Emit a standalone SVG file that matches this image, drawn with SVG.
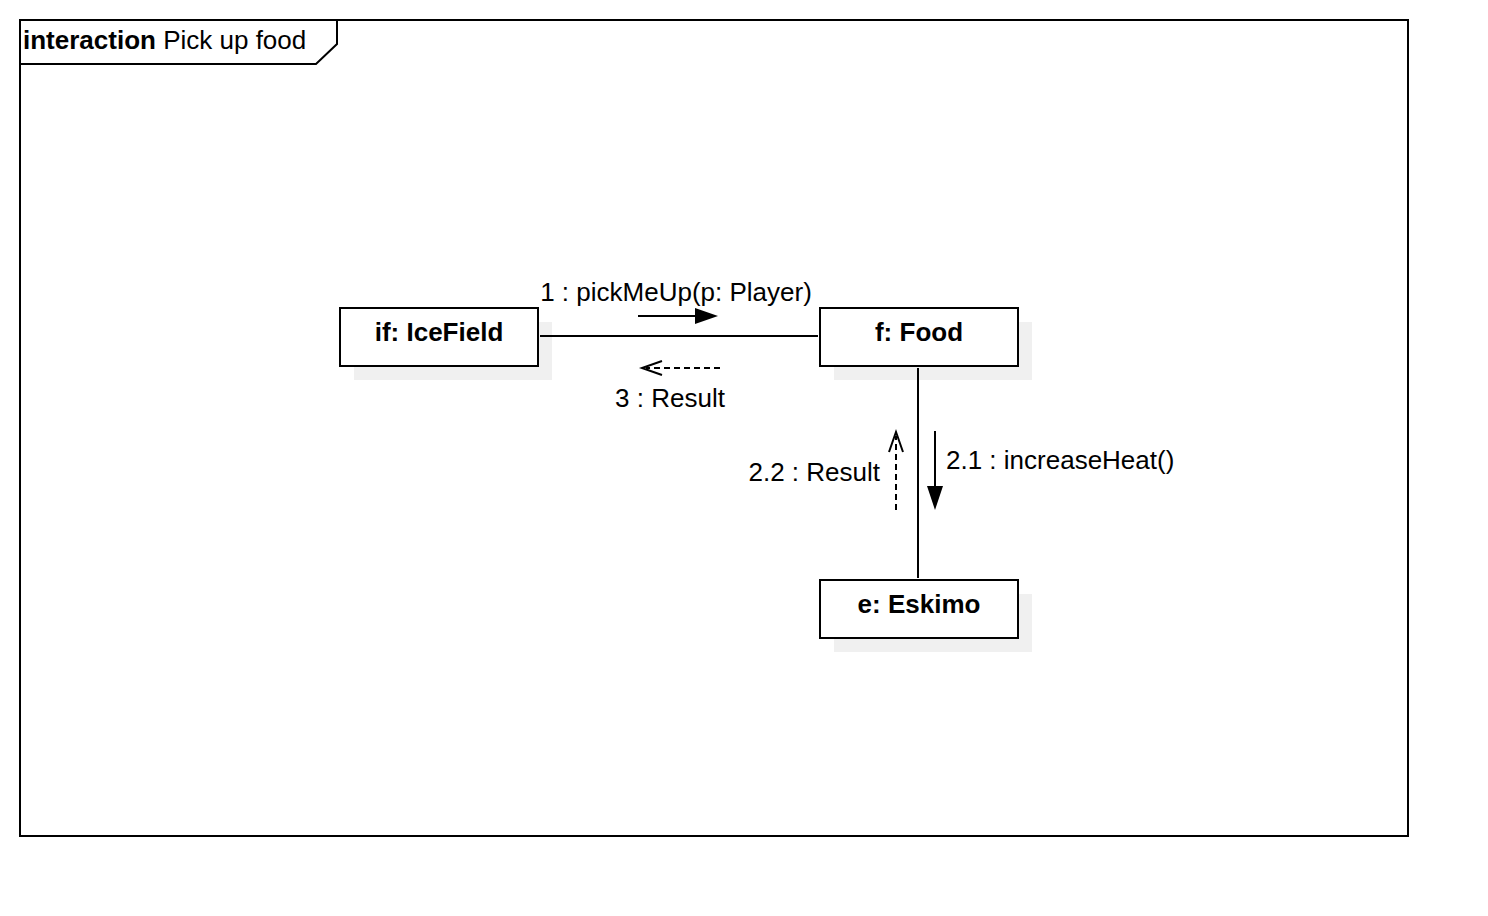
<svg xmlns="http://www.w3.org/2000/svg" width="1488" height="916" viewBox="0 0 1488 916">
<style>
text{font-family:"Liberation Sans",Arial,sans-serif;font-size:26px;fill:#000}
.b{font-weight:bold}
.box{fill:#fff;stroke:#000;stroke-width:2}
.sh{fill:#f0f0f0}
.ln{stroke:#000;stroke-width:2;fill:none}
.ds{stroke:#000;stroke-width:2;fill:none;stroke-dasharray:6 4}
</style>
<rect width="1488" height="916" fill="#fff"/>
<g id="frame">
<rect x="20" y="20" width="1388" height="816" fill="none" stroke="#000" stroke-width="2"/>
<path d="M20 64 H316 L337 44 V20" class="ln"/>
<text x="23" y="49"><tspan class="b">interaction</tspan> Pick up food</text>
</g>
<g id="node-icefield">
<rect x="354" y="322" width="198" height="58" class="sh"/>
<rect x="340" y="308" width="198" height="58" class="box"/>
<text x="439" y="341" text-anchor="middle" class="b">if: IceField</text>
</g>
<g id="node-food">
<rect x="834" y="322" width="198" height="58" class="sh"/>
<rect x="820" y="308" width="198" height="58" class="box"/>
<text x="919" y="341" text-anchor="middle" class="b">f: Food</text>
</g>
<g id="node-eskimo">
<rect x="834" y="594" width="198" height="58" class="sh"/>
<rect x="820" y="580" width="198" height="58" class="box"/>
<text x="919" y="613" text-anchor="middle" class="b">e: Eskimo</text>
</g>
<g id="connectors">
<line x1="540" y1="336" x2="818" y2="336" class="ln"/>
<line x1="918" y1="368" x2="918" y2="578" class="ln"/>
<line x1="638" y1="316" x2="700" y2="316" class="ln"/>
<path d="M718 316 L695 308 L695 324 Z" fill="#000"/>
<line x1="720" y1="368" x2="646" y2="368" class="ds"/>
<path d="M662 361 L642 368 L662 375" class="ln"/>
<line x1="935" y1="431" x2="935" y2="490" class="ln"/>
<path d="M935 510 L927 486 L943 486 Z" fill="#000"/>
<line x1="896" y1="510" x2="896" y2="436" class="ds"/>
<path d="M889 452 L896 432 L903 452" class="ln"/>
<text x="676" y="301" text-anchor="middle">1 : pickMeUp(p: Player)</text>
<text x="670" y="407" text-anchor="middle">3 : Result</text>
<text x="880" y="481" text-anchor="end">2.2 : Result</text>
<text x="946" y="469">2.1 : increaseHeat()</text>
</g>
</svg>
